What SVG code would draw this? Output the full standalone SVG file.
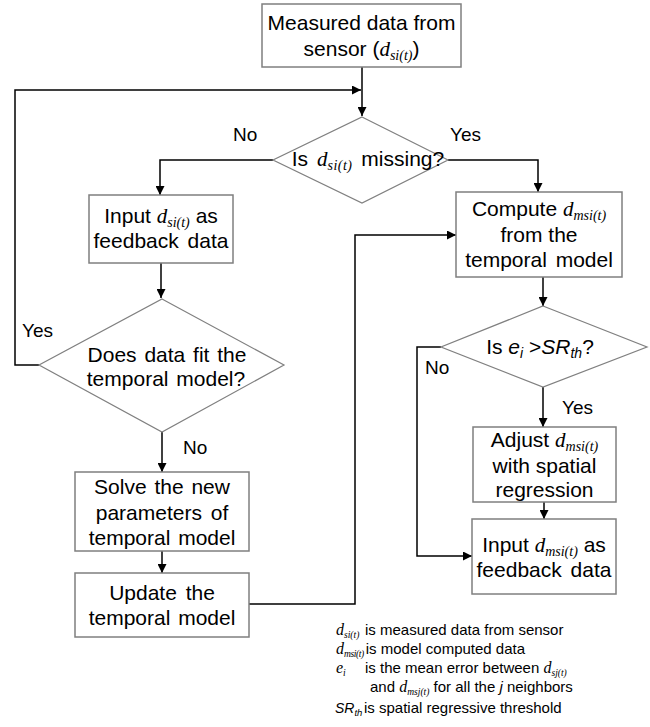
<svg xmlns="http://www.w3.org/2000/svg" width="650" height="727" viewBox="0 0 650 727">
<defs>
<marker id="ah" markerUnits="userSpaceOnUse" markerWidth="9" markerHeight="9" refX="9" refY="4.5" orient="auto">
<path d="M0,0 L9,4.5 L0,9 z" fill="#000"/>
</marker>
<style>
.box{fill:#fff;stroke:#7f7f7f;stroke-width:1.5}
.dia{fill:#fff;stroke:#808080;stroke-width:1.2}
.c{fill:none;stroke:#000;stroke-width:1.5}
.t{font-family:"Liberation Sans",Arial,sans-serif;font-size:21px;fill:#000;text-anchor:middle}
.lb{font-family:"Liberation Sans",Arial,sans-serif;font-size:19px;fill:#000}
.lg{font-family:"Liberation Sans",Arial,sans-serif;font-size:15px;fill:#000}
.v{font-family:"Liberation Serif","Times New Roman",serif;font-style:italic}
.s{font-family:"Liberation Serif","Times New Roman",serif;font-style:italic;font-size:14px}
.ls{font-family:"Liberation Serif","Times New Roman",serif;font-style:italic;font-size:9.5px}
.si{font-style:italic}
</style>
</defs>
<rect width="650" height="727" fill="#fff"/>
<g id="connectors">
<polyline class="c" points="362,67 362,116" marker-end="url(#ah)"/>
<polyline class="c" points="39,365 15,365 15,90 361,90" marker-end="url(#ah)"/>
<polyline class="c" points="273,160 160,160 160,195" marker-end="url(#ah)"/>
<polyline class="c" points="448,160 538,160 538,192" marker-end="url(#ah)"/>
<polyline class="c" points="161,263 161,298" marker-end="url(#ah)"/>
<polyline class="c" points="162,432 162,472" marker-end="url(#ah)"/>
<polyline class="c" points="162,551 162,573" marker-end="url(#ah)"/>
<polyline class="c" points="249,604 355,604 355,235 456,235" marker-end="url(#ah)"/>
<polyline class="c" points="543,277 543,306" marker-end="url(#ah)"/>
<polyline class="c" points="543,387 543,427" marker-end="url(#ah)"/>
<polyline class="c" points="441,347 417,347 417,556 472,556" marker-end="url(#ah)"/>
<polyline class="c" points="544,502 544,519" marker-end="url(#ah)"/>
<text class="lb" x="233" y="141">No</text>
<text class="lb" x="450" y="141">Yes</text>
<text class="lb" x="22" y="337">Yes</text>
<text class="lb" x="183" y="454">No</text>
<text class="lb" x="425" y="374">No</text>
<text class="lb" x="562" y="414">Yes</text>
</g>
<g id="n_measured">
<rect class="box" x="262" y="4" width="199" height="63"/>
<text class="t" x="361.5" y="30">Measured data from</text>
<text class="t" x="361.5" y="56">sensor (<tspan class="v">d</tspan><tspan class="s" dy="4">si(t)</tspan><tspan dy="-4">)</tspan></text>
</g>
<g id="n_missing">
<polygon class="dia" points="362,117 448,160 362,203 273,160"/>
<text class="t" x="368" y="166" word-spacing="3">Is <tspan class="v">d</tspan><tspan class="s" dy="4" letter-spacing="0.5">si(t)</tspan><tspan dy="-4"> missing?</tspan></text>
</g>
<g id="n_input_dsi">
<rect class="box" x="89" y="195" width="144" height="68"/>
<text class="t" x="161" y="223">Input <tspan class="v">d</tspan><tspan class="s" dy="4">si(t)</tspan><tspan dy="-4"> as</tspan></text>
<text class="t" x="161" y="248" word-spacing="3">feedback data</text>
</g>
<g id="n_fit">
<polygon class="dia" points="162,299 284,365 162,432 39,365"/>
<text class="t" x="167" y="362" word-spacing="2">Does data fit the</text>
<text class="t" x="166" y="386" word-spacing="2">temporal model?</text>
</g>
<g id="n_solve">
<rect class="box" x="75" y="472" width="174" height="79"/>
<text class="t" x="162" y="494" word-spacing="2">Solve the new</text>
<text class="t" x="162" y="520" word-spacing="3">parameters of</text>
<text class="t" x="162" y="545" word-spacing="2">temporal model</text>
</g>
<g id="n_update">
<rect class="box" x="75" y="573" width="174" height="64"/>
<text class="t" x="162" y="600" word-spacing="3">Update the</text>
<text class="t" x="162" y="625" word-spacing="2">temporal model</text>
</g>
<g id="n_compute">
<rect class="box" x="456" y="192" width="166" height="85"/>
<text class="t" x="539" y="216">Compute <tspan class="v">d</tspan><tspan class="s" dy="4">msi(t)</tspan></text>
<text class="t" x="539" y="242">from the</text>
<text class="t" x="539" y="267" word-spacing="3">temporal model</text>
</g>
<g id="n_threshold">
<polygon class="dia" points="543,306 647,347 543,387 441,347"/>
<text class="t" x="540" y="354">Is <tspan class="si">e</tspan><tspan class="si" font-size="14" dy="4">i</tspan><tspan dy="-4"> &gt;</tspan><tspan class="si">SR</tspan><tspan class="si" font-size="14" dy="4">th</tspan><tspan dy="-4">?</tspan></text>
</g>
<g id="n_adjust">
<rect class="box" x="473" y="427" width="143" height="75"/>
<text class="t" x="544.5" y="447">Adjust <tspan class="v">d</tspan><tspan class="s" dy="4">msi(t)</tspan></text>
<text class="t" x="544.5" y="473">with spatial</text>
<text class="t" x="544.5" y="497">regression</text>
</g>
<g id="n_input_dmsi">
<rect class="box" x="472" y="519" width="144" height="75"/>
<text class="t" x="544" y="552">Input <tspan class="v">d</tspan><tspan class="s" dy="4">msi(t)</tspan><tspan dy="-4"> as</tspan></text>
<text class="t" x="544" y="577" word-spacing="3">feedback data</text>
</g>
<g id="legend">
<text class="lg" x="336" y="635"><tspan class="v" font-size="16">d</tspan><tspan class="ls" dy="3">si(t)</tspan></text>
<text class="lg" x="365" y="635">is measured data from sensor</text>
<text class="lg" x="336" y="654"><tspan class="v" font-size="16">d</tspan><tspan class="ls" dy="3" font-size="8.5" letter-spacing="-0.4">msi(t)</tspan><tspan dy="-3" dx="2">is model computed data</tspan></text>
<text class="lg" x="336" y="673"><tspan class="v" font-size="16">e</tspan><tspan class="ls" dy="3">i</tspan></text>
<text class="lg" x="365" y="673">is the mean error between <tspan class="v" font-size="16">d</tspan><tspan class="ls" dy="3">sj(t)</tspan></text>
<text class="lg" x="370" y="692">and <tspan class="v" font-size="16">d</tspan><tspan class="ls" dy="3">msj(t)</tspan><tspan dy="-3"> for all the </tspan><tspan class="si">j</tspan> neighbors</text>
<text class="lg" x="335" y="713"><tspan class="si" font-size="14">SR</tspan><tspan class="si" font-size="9.5" dy="3">th</tspan></text>
<text class="lg" x="364" y="713">is spatial regressive threshold</text>
</g>
</svg>
